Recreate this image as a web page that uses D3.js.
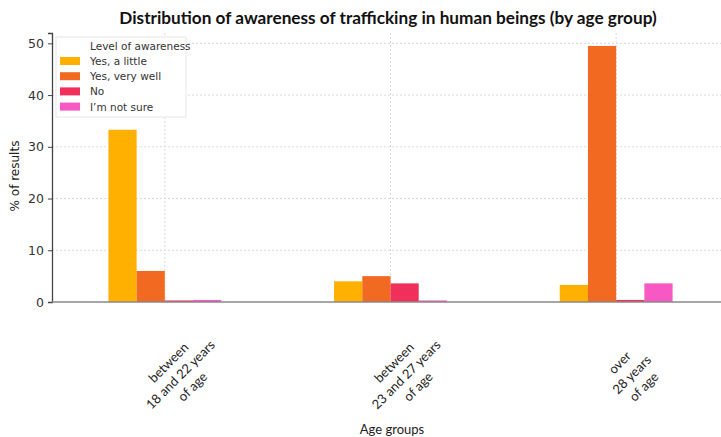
<!DOCTYPE html>
<html>
<head>
<meta charset="utf-8">
<script src="https://cdn.jsdelivr.net/npm/d3@7"></script>
<style>
  body { margin: 0; background: #fff; }
  svg { display: block; }
  .grid line { stroke: #d9d9d9; stroke-dasharray: 2,2; }
  .yaxis text { font-family: "DejaVu Sans", sans-serif; font-size: 12.5px; fill: #333; }
</style>
</head>
<body>
<svg width="721" height="437"></svg>
<script>
// data
var ageGroups = [
  ["between", "18 and 22 years", "of age"],
  ["between", "23 and 27 years", "of age"],
  ["over", "28 years", "of age"]
];
var levels = ["Yes, a little", "Yes, very well", "No", "I\u2019m not sure"];
var yesLittle = [33.3, 4.0, 3.3];
var yesWell   = [6.0, 5.0, 49.5];
var noAware   = [0.3, 3.6, 0.4];
var notSure   = [0.4, 0.3, 3.6];
var yTicks = [0, 10, 20, 30, 40, 50];

var series = [yesLittle, yesWell, noAware, notSure];
var colors = ["#ffb000", "#f26a21", "#f0305a", "#f858c4"];

var svg = d3.select("svg");

var x = d3.scaleLinear().domain([-0.5, 2.5]).range([52, 729]);
var y = d3.scaleLinear().domain([0, 52]).range([302, 33]);
var barW = 0.125;

// grid
var grid = svg.append("g").attr("class", "grid");
grid.selectAll(".hg")
    .data(yTicks.filter(d => d > 0))
    .enter().append("line")
    .attr("x1", x(-0.5)).attr("x2", x(2.5))
    .attr("y1", d => y(d)).attr("y2", d => y(d));
grid.selectAll(".vg")
    .data(d3.range(ageGroups.length))
    .enter().append("line")
    .attr("x1", d => x(d)).attr("x2", d => x(d))
    .attr("y1", y(52)).attr("y2", y(0));

// bars
series.forEach(function (vals, s) {
    svg.append("g")
        .selectAll("rect")
        .data(vals)
        .enter().append("rect")
        .attr("x", (d, i) => x(i + (s - 2) * barW))
        .attr("width", x(barW) - x(0))
        .attr("y", d => y(d))
        .attr("height", d => y(0) - y(d))
        .attr("fill", colors[s]);
});

// y axis
var yAxis = svg.append("g")
    .attr("class", "yaxis")
    .attr("transform", "translate(52,0)")
    .call(d3.axisLeft(y).tickValues(yTicks).tickSize(4).tickPadding(4));
yAxis.select(".domain").attr("stroke", "#444").attr("stroke-width", 1.3);
yAxis.selectAll(".tick line").attr("stroke", "#444");

// bottom spine
svg.append("line")
    .attr("x1", x(-0.5)).attr("x2", 721)
    .attr("y1", y(0)).attr("y2", y(0))
    .attr("stroke", "#888").attr("stroke-width", 1.3);

// x tick labels, rotated
ageGroups.forEach(function (lines, i) {
    var t = svg.append("text")
        .attr("transform", "translate(" + (x(i) + 16) + ",375) rotate(-45)")
        .attr("text-anchor", "middle")
        .style("font-family", "Lato, sans-serif")
        .style("font-size", "13px")
        .attr("fill", "#222");
    lines.forEach(function (ln, k) {
        t.append("tspan")
            .attr("x", 0)
            .attr("y", (k - 1) * 17 + 4)
            .text(ln);
    });
});

// title
svg.append("text")
    .attr("x", 388).attr("y", 24)
    .attr("text-anchor", "middle")
    .style("font-family", "Lato, sans-serif")
    .style("font-weight", "bold")
    .style("font-size", "17.2px")
    .attr("fill", "#111")
    .text("Distribution of awareness of trafficking in human beings (by age group)");

// axis labels
svg.append("text")
    .attr("transform", "translate(19,176) rotate(-90)")
    .attr("text-anchor", "middle")
    .style("font-family", "DejaVu Sans, sans-serif")
    .style("font-size", "12px")
    .attr("fill", "#222")
    .text("% of results");

svg.append("text")
    .attr("x", 392).attr("y", 434)
    .attr("text-anchor", "middle")
    .style("font-family", "Lato, sans-serif")
    .style("font-size", "13px")
    .attr("fill", "#222")
    .text("Age groups");

// legend
var legend = svg.append("g").attr("transform", "translate(56,37)");
legend.append("rect")
    .attr("width", 130).attr("height", 80)
    .attr("fill", "#fff").attr("fill-opacity", 0.9)
    .attr("stroke", "#e6e6e6");
legend.append("text")
    .attr("x", 34).attr("y", 13)
    .style("font-family", "DejaVu Sans, sans-serif")
    .style("font-size", "10.5px")
    .attr("fill", "#333")
    .text("Level of awareness");
levels.forEach(function (name, i) {
    var row = legend.append("g").attr("transform", "translate(4," + (20 + i * 15.2) + ")");
    row.append("rect").attr("width", 20).attr("height", 8).attr("fill", colors[i]);
    row.append("text")
        .attr("x", 30).attr("y", 8)
        .style("font-family", "DejaVu Sans, sans-serif")
        .style("font-size", "10.5px")
        .attr("fill", "#333")
        .text(name);
});
</script>
</body>
</html>
